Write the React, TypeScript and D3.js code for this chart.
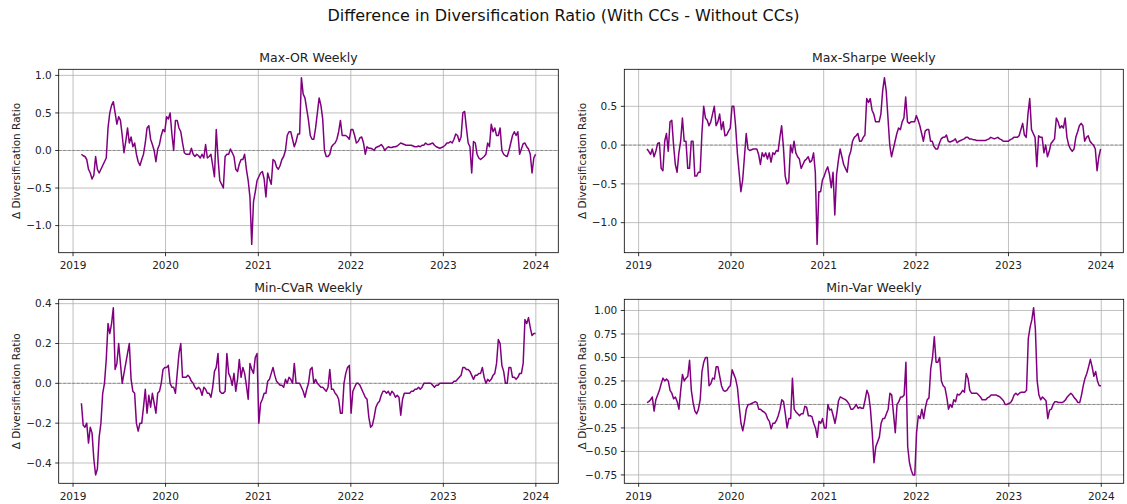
import React from 'react';
import * as d3 from 'd3';

// weekly samples, first one on 2019-02-03
const START = new Date(2019, 1, 3);
const STEP_DAYS = 7;

const YEARS = [2019, 2020, 2021, 2022, 2023, 2024];

const TITLES = ['Max-OR Weekly', 'Max-Sharpe Weekly', 'Min-CVaR Weekly', 'Min-Var Weekly'];

const maxOR = [
  -0.05, -0.07, -0.08, -0.12, -0.25, -0.3, -0.38, -0.33, -0.08, -0.25,
  -0.3, -0.25, -0.2, -0.15, -0.1, 0.3, 0.5, 0.6, 0.65, 0.5,
  0.35, 0.45, 0.4, 0.2, -0.03, 0.12, 0.3, 0.1, 0.18, 0.05,
  0.1, -0.05, -0.15, -0.2, -0.12, -0.05, 0.1, 0.3, 0.33, 0.15,
  0.08, 0.0, -0.15, 0.02, 0.08, 0.2, 0.28, 0.25, 0.45, 0.42,
  0.5, 0.22, 0.0, 0.4, 0.4, 0.3, 0.25, 0.1, -0.03, -0.05,
  -0.05, -0.05, 0.03, -0.05, -0.08, -0.05, -0.07, -0.1, -0.05, -0.1,
  0.08, -0.1, -0.08, -0.05, -0.2, -0.35, 0.28, -0.1, -0.4, -0.45,
  -0.5, -0.08, -0.05, -0.05, 0.02, -0.03, -0.08, -0.25, -0.28, -0.18,
  -0.12, -0.12, -0.05, -0.25, -0.4, -0.62, -1.25, -0.68, -0.55, -0.4,
  -0.35, -0.3, -0.28, -0.38, -0.62, -0.3, -0.38, -0.45, -0.12, -0.14,
  -0.22, -0.25, -0.2, -0.12, -0.08, 0.0, 0.2, 0.25, 0.25, 0.15,
  0.05, 0.12, 0.22, 0.22, 0.97, 0.75, 0.7, 0.55, 0.4, 0.2,
  0.15, 0.15, 0.3, 0.5, 0.7, 0.6, 0.42, 0.0, -0.08, -0.08,
  -0.05, 0.05, 0.08, 0.1, 0.15, 0.25, 0.4, 0.2, 0.2, 0.2,
  0.18, 0.15, 0.28, 0.28, 0.2, 0.1, 0.12, 0.17, 0.18, 0.1,
  -0.05, 0.05, 0.03, 0.03, 0.02, 0.0, 0.04, 0.05, 0.06, 0.08,
  0.05, 0.0, 0.03, 0.05, 0.04, 0.04, 0.05, 0.05, 0.06, 0.08,
  0.1, 0.09, 0.08, 0.07, 0.07, 0.07, 0.07, 0.06, 0.05, 0.05,
  0.06, 0.05, 0.07, 0.07, 0.1, 0.08, 0.08, 0.09, 0.1, 0.07,
  0.05, 0.04, 0.03, 0.04, 0.05, 0.07, 0.1, 0.1, 0.12, 0.1,
  0.15, 0.22, 0.2, 0.12, 0.18, 0.5, 0.52, 0.3, 0.1, 0.05,
  -0.3, 0.12, 0.1, -0.05, -0.1, -0.12, -0.1, -0.08, -0.05, 0.1,
  0.05, 0.35, 0.25, 0.3, 0.2, 0.2, 0.3, 0.0, -0.05, -0.07,
  -0.08, 0.0, 0.1, 0.2, 0.25, 0.2, 0.25, -0.05, 0.02, 0.09,
  0.1, 0.05, 0.02, -0.05, -0.3, -0.1, -0.05,
];

const maxSharpe = [
  -0.05, -0.08, -0.12, -0.05, -0.15, -0.08, 0.02, 0.03, -0.3, -0.33,
  0.05, 0.15, -0.08, 0.3, 0.32, 0.0, -0.25, -0.35, -0.1, 0.05,
  0.35, 0.05, 0.05, -0.3, -0.3, 0.05, 0.05, -0.4, -0.4, -0.35,
  -0.35, 0.15, 0.5, 0.35, 0.32, 0.25, 0.3, 0.4, 0.5, 0.25,
  0.3, 0.4, 0.2, 0.3, 0.12, 0.13, 0.18, 0.22, 0.5, 0.5,
  0.25, -0.1, -0.35, -0.6, -0.45, -0.15, 0.15, -0.05, -0.07, -0.06,
  -0.05, -0.05, -0.05, -0.12, -0.25, -0.1, -0.15, -0.1, -0.18, -0.1,
  -0.22, -0.1, -0.12, -0.07, -0.08, 0.1, 0.25, -0.03, -0.4, -0.5,
  -0.48, 0.0, -0.1, 0.05, -0.1, -0.15, -0.18, -0.3, -0.25, -0.2,
  -0.18, -0.15, -0.22, -0.2, -0.1, -0.35, -1.28, -0.6, -0.6, -0.45,
  -0.4, -0.33, -0.28, -0.38, -0.55, -0.35, -0.9, -0.38, -0.2, -0.05,
  -0.15, -0.25, -0.3, -0.35, -0.15, -0.08, 0.05, 0.1, 0.12, 0.15,
  0.05, 0.05, 0.1, 0.13, 0.6, 0.55, 0.6, 0.45, 0.4, 0.3,
  0.3, 0.3, 0.4, 0.7, 0.87, 0.7, 0.35, 0.0, -0.15, -0.05,
  0.05, 0.15, 0.22, 0.2, 0.3, 0.35, 0.62, 0.3, 0.28, 0.3,
  0.3, 0.3, 0.38, 0.32, 0.25, 0.15, 0.05, 0.18, 0.2, 0.2,
  0.05, 0.05, -0.02, -0.05, -0.05, 0.02, 0.08, 0.1, 0.1, 0.13,
  0.05, 0.04, 0.05, 0.06, 0.08, 0.03, 0.05, 0.06, 0.07, 0.08,
  0.1, 0.1, 0.08, 0.08, 0.07, 0.07, 0.06, 0.06, 0.06, 0.06,
  0.06, 0.06, 0.07, 0.08, 0.1, 0.09, 0.08, 0.09, 0.1, 0.08,
  0.07, 0.05, 0.05, 0.05, 0.05, 0.07, 0.08, 0.1, 0.1, 0.1,
  0.12, 0.2, 0.28, 0.13, 0.1, 0.4, 0.6, 0.2, 0.15, 0.1,
  -0.28, 0.12, 0.1, 0.1, -0.1, 0.0, -0.15, -0.08, 0.02, 0.05,
  0.08, 0.35, 0.3, 0.22, 0.25, 0.22, 0.35, 0.1, 0.0, -0.05,
  -0.08, -0.05, 0.1, 0.17, 0.25, 0.28, 0.25, 0.05, 0.1, 0.12,
  0.05, 0.02, 0.0, -0.05, -0.33, -0.15, -0.05,
];

const minCVaR = [
  -0.1, -0.21, -0.22, -0.2, -0.3, -0.22, -0.25, -0.38, -0.46, -0.43,
  -0.27, -0.2, -0.05, 0.0, 0.12, 0.3, 0.25, 0.3, 0.38, 0.07,
  0.1, 0.2, 0.1, 0.0, 0.05, 0.1, 0.15, 0.2, 0.02, -0.04,
  -0.05, -0.2, -0.24, -0.2, -0.2, -0.12, -0.03, -0.15, -0.06, -0.12,
  -0.05, -0.1, -0.15, -0.05, -0.04, 0.0, 0.07, 0.08, 0.08, 0.09,
  0.0, -0.02, -0.02, -0.05, 0.05, 0.15, 0.2, 0.03, 0.03, 0.03,
  0.04, 0.03, 0.01, 0.0, -0.02, -0.03, -0.02, -0.03, -0.06, -0.02,
  -0.03, -0.05, -0.05, -0.07, -0.02, 0.06, 0.08, 0.15, -0.04, -0.05,
  -0.05, -0.04, 0.15, 0.05, 0.03, -0.01, 0.05, -0.04, 0.02, 0.12,
  0.03, 0.08, 0.05, -0.01, -0.08, 0.1, 0.07, 0.05, 0.13, 0.15,
  -0.2, -0.1, -0.08, -0.05, -0.05, 0.01, 0.02, 0.05, 0.08, 0.04,
  0.01, 0.0, -0.01, -0.01, -0.02, 0.02, 0.0, 0.03, 0.02, 0.0,
  0.1, 0.0, 0.0, 0.0, -0.02, -0.04, -0.07, -0.03, 0.0, 0.07,
  0.08, 0.0, 0.02, 0.0, -0.01, -0.02, -0.02, -0.03, -0.04, -0.02,
  0.07, -0.03, -0.03, -0.05, -0.06, -0.08, -0.15, -0.15, 0.0, 0.05,
  0.08, 0.09, -0.15, -0.04, -0.02, 0.0, 0.0, -0.01, -0.03, -0.05,
  -0.07, -0.08, -0.17, -0.22, -0.21, -0.17, -0.12, -0.1, -0.09, -0.06,
  -0.04, -0.04, -0.05, -0.04, -0.06, -0.04, -0.05, -0.07, -0.06, -0.07,
  -0.16, -0.08, -0.05, -0.05, -0.05, -0.05, -0.04, -0.04, -0.03, -0.03,
  -0.02, -0.03, -0.02, 0.0, 0.0, 0.0, 0.0, 0.0, -0.01, -0.02,
  -0.01, -0.01, 0.0, 0.0, 0.0, 0.0, 0.0, 0.0, 0.0, 0.0,
  0.01, 0.01, 0.02, 0.03, 0.04, 0.08, 0.08, 0.07, 0.07, 0.06,
  0.04, 0.02, 0.04, 0.04, 0.05, 0.05, 0.08, 0.03, 0.0, 0.02,
  0.01, 0.02, 0.04, 0.05, 0.1, 0.22, 0.2, 0.09, 0.06, 0.0,
  0.0, 0.08, 0.08, 0.03, 0.03, 0.02, 0.03, 0.05, 0.05, 0.1,
  0.32, 0.3, 0.33, 0.28, 0.24, 0.25, 0.25,
];

const minVar = [
  0.02, 0.03, 0.05, 0.08, -0.07, 0.05, 0.1, 0.15, 0.22, 0.28,
  0.25, 0.27, 0.25, 0.15, 0.12, 0.06, 0.08, 0.03, -0.05, 0.15,
  0.32, 0.25, 0.28, 0.3, 0.47, 0.15, 0.02, -0.07, -0.1, -0.05,
  0.05, 0.35, 0.45, 0.5, 0.5, 0.2, 0.22, 0.28, 0.27, 0.4,
  0.4, 0.3, 0.2, 0.15, 0.14, 0.15, 0.18, 0.2, 0.37, 0.32,
  0.27, 0.18, -0.02, -0.2, -0.28, -0.18, -0.05, 0.0, 0.0, 0.01,
  0.02, 0.03, 0.02, -0.05, -0.05, -0.07, -0.08, -0.1, -0.15, -0.18,
  -0.26, -0.2, -0.2, -0.17, -0.12, -0.05, 0.05, 0.03, -0.1, -0.25,
  -0.15, -0.15, 0.28, -0.05, -0.08, -0.1, -0.12, -0.1, -0.1, -0.02,
  -0.03, -0.12, -0.12, -0.13, -0.2, -0.25, -0.35, -0.18, -0.2, -0.15,
  -0.25, -0.25, 0.0, -0.06, -0.05, -0.12, -0.2, -0.1, 0.04, 0.08,
  0.07, 0.06, 0.05, 0.03, 0.0, -0.05, -0.05, -0.03, 0.0, -0.04,
  -0.03, -0.04, -0.04, 0.05, 0.15, 0.1, -0.05, -0.3, -0.62, -0.45,
  -0.4, -0.35, -0.2, -0.15, -0.15, -0.1, -0.05, 0.12, 0.1, -0.1,
  -0.3, 0.0, 0.03, 0.08, 0.08, 0.1, 0.45, -0.45, -0.62, -0.7,
  -0.75, -0.75, -0.3, -0.12, -0.15, -0.05, -0.15, -0.03, 0.05, 0.07,
  0.38, 0.5, 0.72, 0.45, 0.45, 0.5, 0.25, 0.2, 0.18, 0.08,
  -0.05, 0.0, -0.03, 0.05, 0.03, 0.11, 0.1, 0.12, 0.15, 0.13,
  0.33, 0.28, 0.15, 0.12, 0.12, 0.12, 0.12, 0.1, 0.08, 0.05,
  0.05, 0.05, 0.07, 0.08, 0.1, 0.1, 0.1, 0.1, 0.09, 0.08,
  0.06, 0.04, 0.0, 0.0, 0.01, 0.02, 0.05, 0.1, 0.12, 0.1,
  0.12, 0.13, 0.13, 0.13, 0.15, 0.7, 0.82, 0.9, 1.03, 0.8,
  0.25, 0.1, 0.05, 0.08, 0.06, 0.04, -0.15, -0.06, -0.05, 0.0,
  0.03, 0.03, 0.02, 0.02, 0.02, 0.03, 0.05, 0.08, 0.1, 0.12,
  0.1, 0.07, 0.05, 0.02, 0.02, 0.1, 0.2, 0.28, 0.33, 0.4,
  0.48, 0.4, 0.3, 0.35, 0.25, 0.2, 0.2,
];

const SERIES = [maxOR, maxSharpe, minCVaR, minVar];

const Y_TICKS = [
  [-1.0, -0.5, 0.0, 0.5, 1.0],
  [-1.0, -0.5, 0.0, 0.5],
  [-0.4, -0.2, 0.0, 0.2, 0.4],
  [-0.75, -0.5, -0.25, 0.0, 0.25, 0.5, 0.75, 1.0],
];
const Y_FORMATS = ['.1f', '.1f', '.1f', '.2f'];

// panel frames (pixels)
const FRAMES = [
  { left: 58.7, top: 69.3, right: 558.3, bottom: 252.7, labelX: 16 },
  { left: 624.3, top: 69.3, right: 1123.3, bottom: 252.7, labelX: 582 },
  { left: 58.7, top: 299.3, right: 558.3, bottom: 483.3, labelX: 16 },
  { left: 624.3, top: 299.3, right: 1123.7, bottom: 483.3, labelX: 582 },
];

const FONT = 'DejaVu Sans, sans-serif';
const GRID = '#b0b0b0';
const LINE = '#800080';

function pad([a, b]: [number, number], f = 0.05): [number, number] {
  const d = (b - a) * f;
  return [a - d, b + d];
}

function Panel({ idx }: { idx: number }) {
  const values = SERIES[idx];
  const fr = FRAMES[idx];
  const dates = values.map((_, i) => d3.timeDay.offset(START, i * STEP_DAYS));
  const t0 = +dates[0], t1 = +dates[dates.length - 1];
  const span = (t1 - t0) * 0.05;
  const x = d3.scaleTime().domain([new Date(t0 - span), new Date(t1 + span)]).range([fr.left, fr.right]);
  const y = d3.scaleLinear().domain(pad(d3.extent(values) as [number, number])).range([fr.bottom, fr.top]);
  const fmt = d3.format(Y_FORMATS[idx]);
  const line = d3.line<number>().x((_, i) => x(dates[i])).y(d => y(d));
  const yearDates = YEARS.map(yr => new Date(yr, 0, 1));
  const midY = (fr.top + fr.bottom) / 2;

  return (
    <g>
      {/* grid */}
      {yearDates.map((d, i) => (
        <line key={'gx' + i} x1={x(d)} x2={x(d)} y1={fr.top} y2={fr.bottom} stroke={GRID} strokeWidth={0.8} />
      ))}
      {Y_TICKS[idx].map((v, i) => (
        <line key={'gy' + i} x1={fr.left} x2={fr.right} y1={y(v)} y2={y(v)} stroke={GRID} strokeWidth={0.8} />
      ))}
      {/* zero reference */}
      <line x1={fr.left} x2={fr.right} y1={y(0)} y2={y(0)} stroke="#808080" strokeWidth={0.8} strokeDasharray="3,1.5" />
      <path d={line(values) || ''} fill="none" stroke={LINE} strokeWidth={1.5} strokeLinejoin="round" />
      <rect x={fr.left} y={fr.top} width={fr.right - fr.left} height={fr.bottom - fr.top} fill="none" stroke="#000" strokeWidth={0.8} />
      {/* x ticks */}
      {yearDates.map((d, i) => (
        <g key={'tx' + i}>
          <line x1={x(d)} x2={x(d)} y1={fr.bottom} y2={fr.bottom + 3.5} stroke="#000" strokeWidth={0.8} />
          <text x={x(d)} y={fr.bottom + 16.5} textAnchor="middle" fontSize={10.5} fill="#222">{YEARS[i]}</text>
        </g>
      ))}
      {/* y ticks */}
      {Y_TICKS[idx].map((v, i) => (
        <g key={'ty' + i}>
          <line x1={fr.left - 3.5} x2={fr.left} y1={y(v)} y2={y(v)} stroke="#000" strokeWidth={0.8} />
          <text x={fr.left - 7} y={y(v)} dy="0.36em" textAnchor="end" fontSize={10.5} fill="#222">{fmt(v)}</text>
        </g>
      ))}
      <text x={fr.labelX} y={midY} transform={`rotate(-90, ${fr.labelX}, ${midY})`} dy="0.36em" textAnchor="middle" fontSize={10.5} fill="#222">
        Δ Diversification Ratio
      </text>
      <text x={(fr.left + fr.right) / 2} y={fr.top - 7} textAnchor="middle" fontSize={12.5} fill="#222">{TITLES[idx]}</text>
    </g>
  );
}

export default function App() {
  return (
    <svg width={1127} height={504} style={{ position: 'fixed', left: 0, top: 0, background: '#fff' }} fontFamily={FONT}>
      <rect width={1127} height={504} fill="#fff" />
      <text x={563.5} y={21} textAnchor="middle" fontSize={16} fill="#111">
        Difference in Diversification Ratio (With CCs - Without CCs)
      </text>
      {[0, 1, 2, 3].map(i => <Panel key={i} idx={i} />)}
    </svg>
  );
}
